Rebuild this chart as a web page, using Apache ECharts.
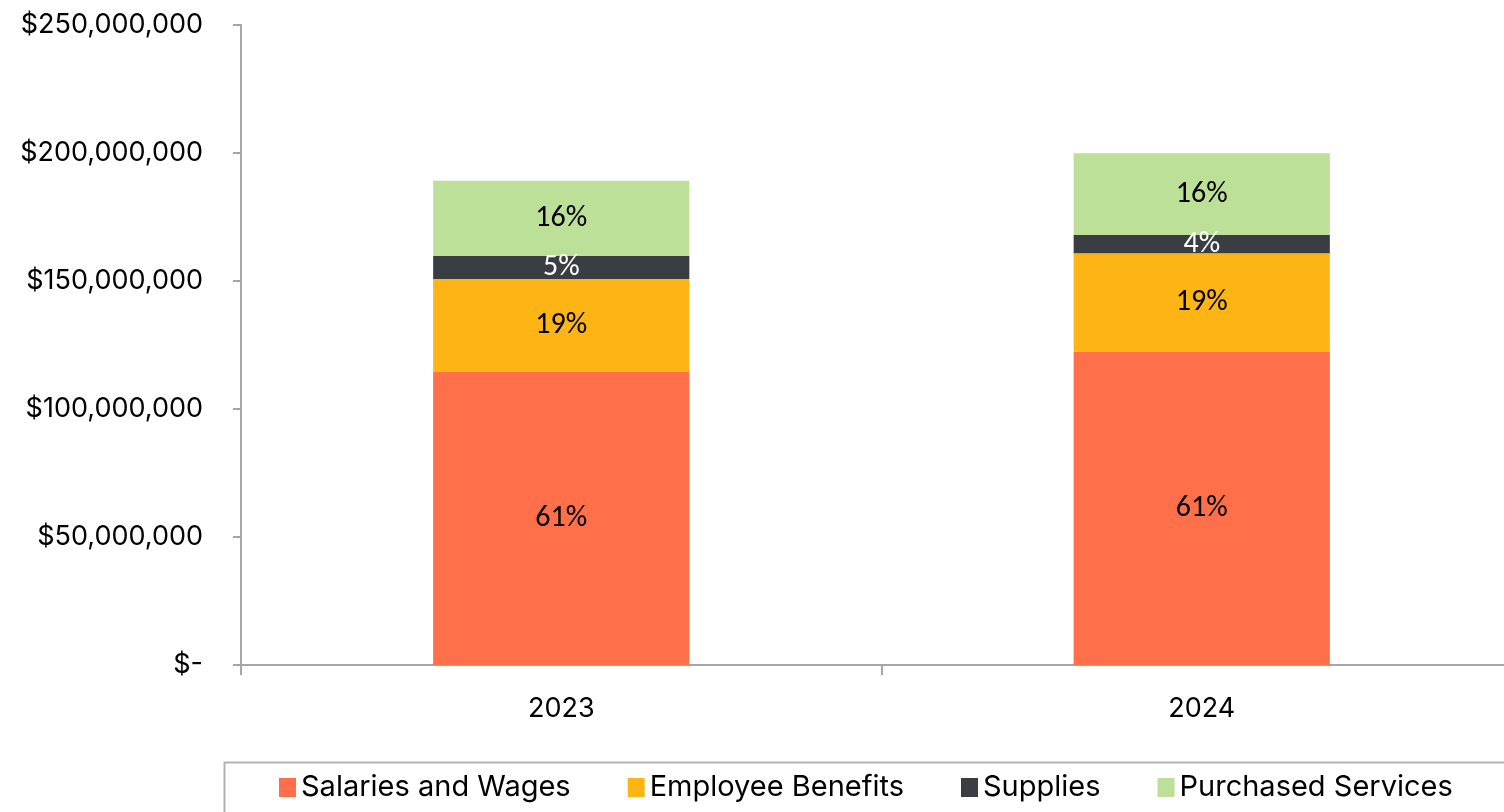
<!DOCTYPE html>
<html>
<head>
<meta charset="utf-8">
<script src="https://cdn.jsdelivr.net/npm/echarts@6/dist/echarts.min.js"></script>
<style>
  html, body { margin: 0; padding: 0; background: #ffffff; overflow: hidden; width: 1504px; height: 812px; }
  /* The plot runs a little past the right edge of the page, as does the legend frame */
  #chart { width: 1522px; height: 812px; }
</style>
</head>
<body>
<div id="chart"></div>
<script>
// Operating expenses by year, in dollars
const years = ['2023', '2024'];
const salariesAndWages = [114600000, 122400000];
const employeeBenefits = [36200000, 38400000];
const supplies = [9000000, 7200000];
const purchasedServices = [29400000, 31900000];

const seriesNames = ['Salaries and Wages', 'Employee Benefits', 'Supplies', 'Purchased Services'];
const seriesValues = [salariesAndWages, employeeBenefits, supplies, purchasedServices];
const seriesColors = ['#FF6F4A', '#FDB515', '#3A3E42', '#BDE098'];
const labelColors = ['#000000', '#000000', '#ffffff', '#000000'];

const AXIS_FONT = 'Inter, Roboto, sans-serif';
const LABEL_FONT = 'Carlito, "Liberation Sans", sans-serif';

// Column totals, used for the share-of-year labels
const totals = years.map((_, i) => seriesValues.reduce((s, arr) => s + arr[i], 0));

function money(v) {
  if (v === 0) return '$-';
  return '$' + v.toLocaleString('en-US');
}

const chart = echarts.init(document.getElementById('chart'), null, { renderer: 'canvas' });

chart.setOption({
  animation: false,
  backgroundColor: '#ffffff',
  grid: { left: 241, right: 0, top: 25, bottom: 147, containLabel: false },
  xAxis: {
    type: 'category',
    data: years,
    axisLine: { lineStyle: { color: '#A6A6A6', width: 2 } },
    axisTick: { show: true, length: 10, lineStyle: { color: '#A6A6A6', width: 2 } },
    axisLabel: { color: '#000000', fontSize: 27, fontFamily: AXIS_FONT, margin: 30 }
  },
  yAxis: {
    type: 'value',
    min: 0,
    max: 250000000,
    interval: 50000000,
    splitLine: { show: false },
    axisLine: { show: true, lineStyle: { color: '#A6A6A6', width: 2 } },
    axisTick: { show: true, length: 8, lineStyle: { color: '#A6A6A6', width: 2 } },
    axisLabel: {
      color: '#000000', fontSize: 27, fontFamily: AXIS_FONT, margin: 38,
      padding: [0, 0, 6, 0],
      formatter: money
    }
  },
  legend: {
    left: 279,
    top: 773,
    padding: 0,
    itemWidth: 17,
    itemHeight: 19,
    itemGap: 57,
    icon: 'rect',
    textStyle: { color: '#000000', fontSize: 29, fontFamily: AXIS_FONT },
    data: seriesNames
  },
  graphic: [{
    type: 'rect',
    left: 222,
    top: 760,
    shape: { width: 1400, height: 120 },
    style: { fill: 'none', stroke: '#B3B3B3', lineWidth: 2 },
    silent: true
  }],
  series: seriesNames.map((name, k) => ({
    name: name,
    type: 'bar',
    stack: 'total',
    barWidth: '40%',
    data: seriesValues[k],
    itemStyle: { color: seriesColors[k] },
    label: {
      show: true,
      position: 'inside',
      color: labelColors[k],
      fontSize: 30,
      fontFamily: LABEL_FONT,
      formatter: p => Math.round(p.value / totals[p.dataIndex] * 100) + '%'
    }
  }))
});
</script>
</body>
</html>
